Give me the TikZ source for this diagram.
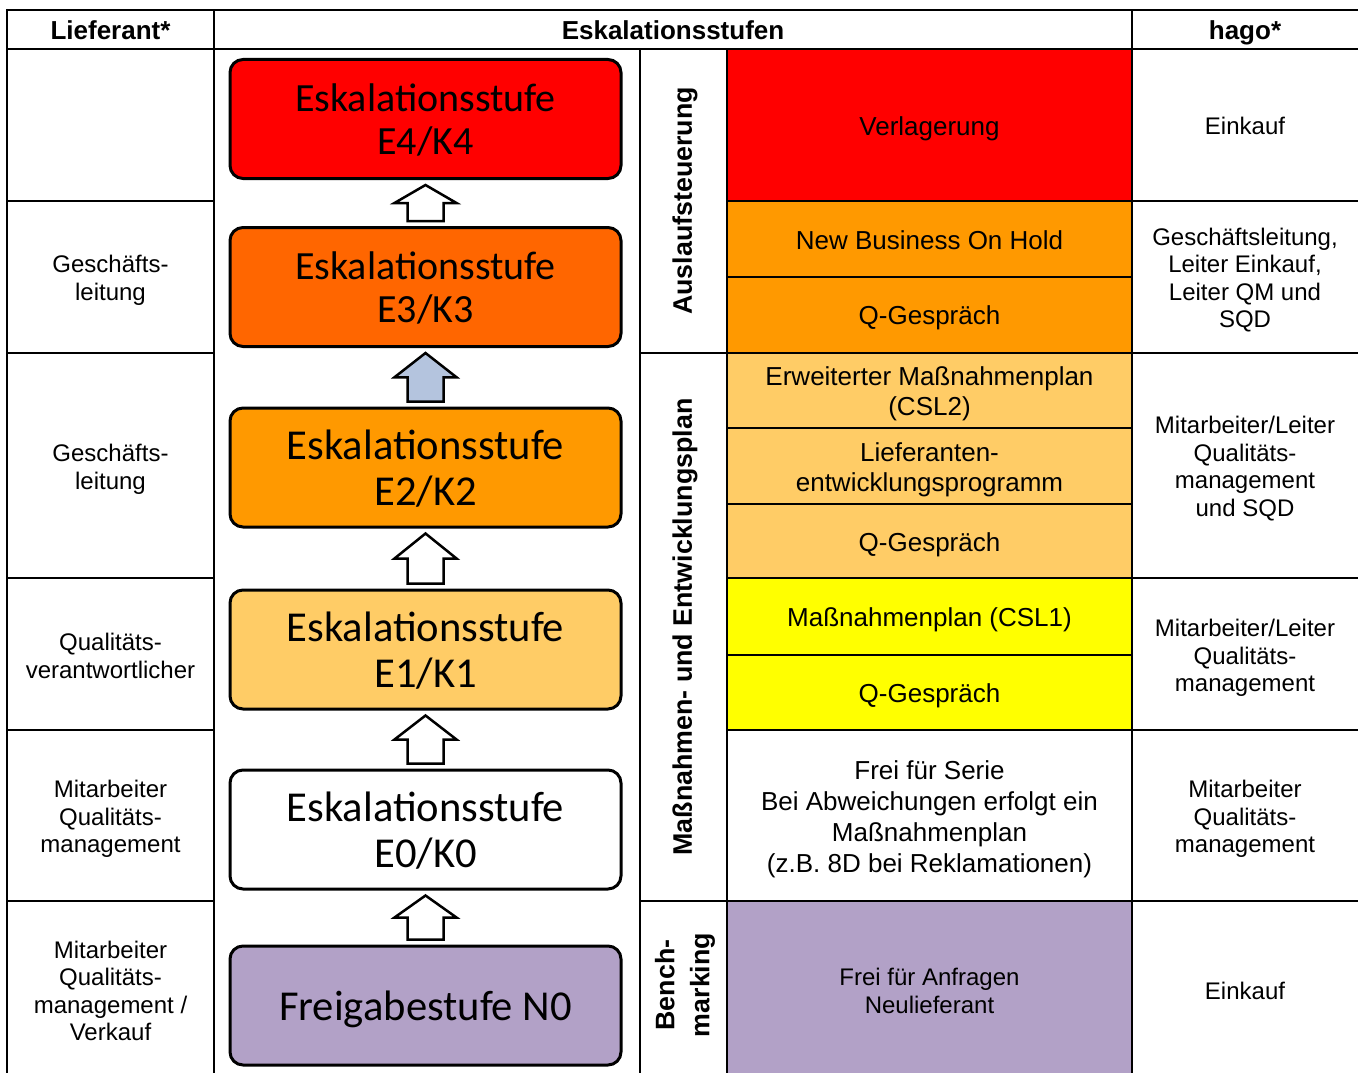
\documentclass[tikz,border=0pt]{standalone}
\usepackage{fontspec}
\setmainfont{Liberation Sans}
\newfontfamily\carlito{Carlito}
\usetikzlibrary{calc}
\definecolor{cRed}{HTML}{FF0000}
\definecolor{cDark}{HTML}{FF6600}
\definecolor{cOrange}{HTML}{FF9900}
\definecolor{cLight}{HTML}{FFCC66}
\definecolor{cYellow}{HTML}{FFFF00}
\definecolor{cPurple}{HTML}{B2A1C7}
\definecolor{cBlue}{HTML}{B4C4DE}
\newcommand\blockarr[3]{%
  \coordinate (t) at ($(#1.south)+(0,5)$);
  \coordinate (m) at ($(#1.south)!0.5!(#2.north)$);
  \coordinate (b) at ($(#2.north)+(0,-5)$);
  \draw[blockarrow,fill=#3] (t) -- ($(m)+(31,0)$) -- ($(m)+(18,0)$) -- ($(b)+(18,0)$)
    -- ($(b)+(-18,0)$) -- ($(m)+(-18,0)$) -- ($(m)+(-31,0)$) -- cycle;}
\begin{document}
\begin{tikzpicture}[x=1pt,y=-1pt,
 grid/.style={line width=2pt},
 stage/.style={draw, line width=3pt, rounded corners=13pt, minimum width=391pt, minimum height=119pt, align=center, font=\carlito\fontsize{40}{43.5}\selectfont, inner sep=0pt},
 bigstage/.style={stage, font=\carlito\fontsize{42.6}{46}\selectfont},
 cell/.style={draw, line width=2pt, minimum width=405pt, align=center, font=\fontsize{26}{30}\selectfont, inner sep=0pt},
 txt/.style={align=center, font=\fontsize{24}{27.6}\selectfont, inner sep=0pt},
 head/.style={font=\bfseries\fontsize{26}{30}\selectfont, inner sep=0pt, anchor=base},
 vlabel/.style={rotate=90, align=center, font=\bfseries\fontsize{26.8}{35}\selectfont, inner sep=0pt},
 blockarrow/.style={draw, line width=2.5pt, line join=miter}
]
\useasboundingbox (0,0) rectangle (1358,1073);

% coloured cells (text placed separately for exact vertical position)
\node[cell, fill=cRed, minimum height=152pt] (c1) at (929.5,125) {};
\node[cell, fill=cOrange, minimum height=76pt] (c2) at (929.5,239) {};
\node[cell, fill=cOrange, minimum height=76pt] (c3) at (929.5,315) {};
\node[cell, fill=cLight, minimum height=75pt] (c4) at (929.5,390.5) {};
\node[cell, fill=cLight, minimum height=76pt] (c5) at (929.5,466) {};
\node[cell, fill=cLight, minimum height=74pt] (c6) at (929.5,541) {};
\node[cell, fill=cYellow, minimum height=77pt] (c7) at (929.5,616.5) {};
\node[cell, fill=cYellow, minimum height=75pt] (c8) at (929.5,692.5) {};
\node[cell, fill=white, minimum height=171pt] (c9) at (929.5,815.5) {};
\node[cell, fill=cPurple, minimum height=179pt] (c10) at (929.5,990.5) {};

\node[cell, draw=none] (t1) at ($(c1)+(0,4)$) {Verlagerung};
\node[cell, draw=none] (t2) at ($(c2)+(0,1)$) {New Business On Hold};
\node[cell, draw=none] (t3) at ($(c3)+(0,3)$) {Q-Gespräch};
\node[cell, draw=none] (t4) at ($(c4)+(0,3)$) {Erweiterter Maßnahmenplan\\(CSL2)};
\node[cell, draw=none] (t5) at ($(c5)+(0,3.5)$) {Lieferanten-\\entwicklungsprogramm};
\node[cell, draw=none] (t6) at ($(c6)+(0,4)$) {Q-Gespräch};
\node[cell, draw=none] (t7) at ($(c7)+(0,3.5)$) {Maßnahmenplan (CSL1)};
\node[cell, draw=none] (t8) at ($(c8)+(0,3)$) {Q-Gespräch};
\node[cell, draw=none, font=\fontsize{26}{31}\selectfont] (t9) at ($(c9)+(0,4)$) {Frei für Serie\\Bei Abweichungen erfolgt ein\\Maßnahmenplan\\(z.B. 8D bei Reklamationen)};
\node[cell, draw=none, font=\fontsize{24}{28}\selectfont] (t10) at (c10) {Frei für Anfragen\\Neulieferant};

% grid
\draw[grid] (7,10) -- (1362,10);
\draw[grid] (7,49) -- (1362,49);
\draw[grid] (7,9) -- (7,1080);
\draw[grid] (214,10) -- (214,1080);
\draw[grid] (1132,10) -- (1132,1080);
\draw[grid] (640,49) -- (640,1080);
\draw[grid] (727,49) -- (727,1080);
\foreach \yy in {201,353,578,730,901}{
  \draw[grid] (7,\yy) -- (214,\yy);
  \draw[grid] (1132,\yy) -- (1362,\yy);
}
\draw[grid] (640,353) -- (727,353);
\draw[grid] (640,901) -- (727,901);

% headers
\node[head] (h1) at (110.5,40) {Lieferant*};
\node[head] (h2) at (673,40) {Eskalationsstufen};
\node[head] (h3) at (1245,40) {hago*};

% vertical labels
\node[vlabel] (v1) at (685,201) {Auslaufsteuerung};
\node[vlabel] (v2) at (685,627) {Maßnahmen- und Entwicklungsplan};
\node[vlabel] (v3) at (685,985) {Bench-\\marking};

% left column
\node[txt] (l2) at (110.5,280) {Geschäfts-\\leitung};
\node[txt] (l3) at (110.5,469) {Geschäfts-\\leitung};
\node[txt] (l4) at (110.5,656) {Qualitäts-\\verantwortlicher};
\node[txt] (l5) at (110.5,819) {Mitarbeiter\\Qualitäts-\\management};
\node[txt] (l6) at (110.5,991) {Mitarbeiter\\Qualitäts-\\management /\\Verkauf};

% right column
\node[txt] (r1) at (1245,126) {Einkauf};
\node[txt] (r2) at (1245,280) {Geschäftsleitung,\\Leiter Einkauf,\\Leiter QM und\\SQD};
\node[txt] (r3) at (1245,468.5) {Mitarbeiter/Leiter\\Qualitäts-\\management\\und SQD};
\node[txt] (r4) at (1245,658) {Mitarbeiter/Leiter\\Qualitäts-\\management};
\node[txt] (r5) at (1245,819) {Mitarbeiter\\Qualitäts-\\management};
\node[txt] (r6) at (1245,991) {Einkauf};

% stages
\node[stage, fill=cRed] (e4) at (425.5,119) {};
\node[stage, fill=cDark] (e3) at (425.5,287) {};
\node[bigstage, fill=cOrange] (e2) at (425.5,467.5) {};
\node[bigstage, fill=cLight] (e1) at (425.5,649.5) {};
\node[bigstage, fill=white] (e0) at (425.5,829.5) {};
\node[bigstage, fill=cPurple] (n0) at (425.5,1005.5) {};
\node[stage, draw=none] (s4) at ($(e4)+(0,1)$) {Eskalationsstufe\\E4/K4};
\node[stage, draw=none] (s3) at ($(e3)+(0,1)$) {Eskalationsstufe\\E3/K3};
\node[bigstage, draw=none] (s2) at ($(e2)+(0,1)$) {Eskalationsstufe\\E2/K2};
\node[bigstage, draw=none] (s1) at ($(e1)+(0,1)$) {Eskalationsstufe\\E1/K1};
\node[bigstage, draw=none] (s0) at ($(e0)+(0,1)$) {Eskalationsstufe\\E0/K0};
\node[bigstage, draw=none] (sn) at ($(n0)+(0,4)$) {Freigabestufe N0};

% arrows
\blockarr{e4}{e3}{white}
\blockarr{e3}{e2}{cBlue}
\blockarr{e2}{e1}{white}
\blockarr{e1}{e0}{white}
\blockarr{e0}{n0}{white}
\end{tikzpicture}
\end{document}
